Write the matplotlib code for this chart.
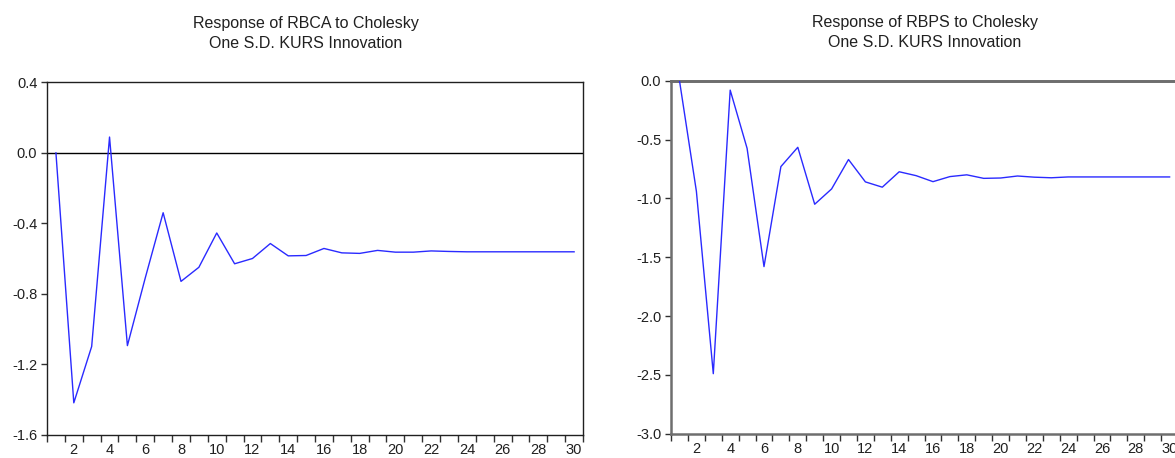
import matplotlib

matplotlib.use("Agg")
import matplotlib.pyplot as plt
import numpy as np
from matplotlib.ticker import FixedLocator, FuncFormatter

plt.rcParams["font.family"] = ["Liberation Sans", "DejaVu Sans"]

periods = list(range(1, 31))

rbca = [0.00, -1.42, -1.10, 0.09, -1.095, -0.71, -0.34, -0.73, -0.65, -0.455,
        -0.63, -0.60, -0.515, -0.585, -0.583, -0.543, -0.568, -0.571, -0.554, -0.564,
        -0.564, -0.557, -0.560, -0.562, -0.562, -0.562, -0.562, -0.562, -0.562, -0.562]

rbps = [0.00, -0.94, -2.49, -0.08, -0.575, -1.58, -0.73, -0.566, -1.05, -0.92,
        -0.67, -0.86, -0.905, -0.774, -0.807, -0.858, -0.815, -0.80, -0.83, -0.827,
        -0.81, -0.82, -0.825, -0.818, -0.818, -0.818, -0.818, -0.818, -0.818, -0.818]

title_rbca = "Response of RBCA to Cholesky\nOne S.D. KURS Innovation"
title_rbps = "Response of RBPS to Cholesky\nOne S.D. KURS Innovation"

rbca_yticks = [0.4, 0.0, -0.4, -0.8, -1.2, -1.6]
rbps_yticks = [0.0, -0.5, -1.0, -1.5, -2.0, -2.5, -3.0]
xlabels = list(range(2, 31, 2))

LINE_BLUE = "#2a2aff"
TXT = "#202020"

fig = plt.figure(figsize=(11.75, 4.58), dpi=100)


def style_axes(ax, values, yticks, ylim, spine_color, spine_lw):
    ax.plot(periods, values, color=LINE_BLUE, lw=1.0, zorder=3)
    ax.set_xlim(0.5, 30.5)
    ax.set_ylim(*ylim)
    ax.xaxis.set_major_locator(FixedLocator(xlabels))
    ax.xaxis.set_minor_locator(FixedLocator(np.arange(0.5, 31, 1.0)))
    ax.tick_params(axis="x", which="major", length=0, pad=6, labelsize=10.5, labelcolor=TXT)
    ax.tick_params(axis="x", which="minor", length=5, width=1.0, direction="out", color="#303030")
    ax.set_yticks(yticks)
    ax.yaxis.set_major_formatter(FuncFormatter(lambda v, p: f"{v:.1f}"))
    ax.tick_params(axis="y", length=4, width=1.0, direction="out", pad=3,
                   labelsize=10.5, labelcolor=TXT, color="#303030")
    for s in ax.spines.values():
        s.set_color(spine_color)
        s.set_linewidth(spine_lw)


# left panel
ax_l = fig.add_axes([0.0400, 0.0513, 0.4562, 0.7686])
style_axes(ax_l, rbca, rbca_yticks, (-1.6, 0.4), "#202020", 1.0)
ax_l.axhline(0.0, color="black", lw=1.0, zorder=2)
fig.text(306 / 1175, 1 - 33.5 / 458, title_rbca, ha="center", va="center",
         fontsize=11.5, color=TXT, linespacing=1.45)

# right panel (cut off at the right edge of the picture, as in the source)
ax_r = fig.add_axes([0.5711, 0.0531, 0.4315, 0.7707])
style_axes(ax_r, rbps, rbps_yticks, (-3.0, 0.0), "#6e6e6e", 1.8)
ax_r.axhline(0.0, color="#6e6e6e", lw=2.0, zorder=2, clip_on=False)
fig.text(925 / 1175, 1 - 32.5 / 458, title_rbps, ha="center", va="center",
         fontsize=11.5, color=TXT, linespacing=1.45)

fig.savefig("out.png", dpi=100)
plt.close(fig)
